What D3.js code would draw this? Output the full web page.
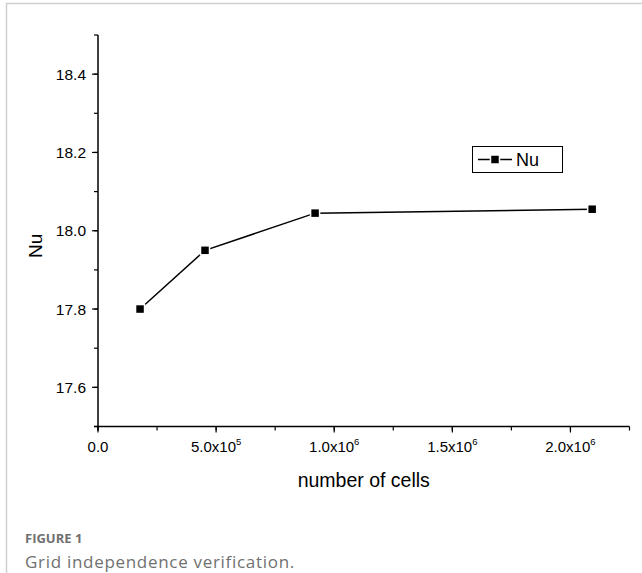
<!DOCTYPE html>
<html>
<head>
<meta charset="utf-8">
<script src="https://cdn.jsdelivr.net/npm/d3@7"></script>
<style>
  body { margin: 0; background: #fff; }
  svg { display: block; }
</style>
</head>
<body>
<div id="chart"></div>
<script>
// values
const cells = [178000, 453000, 919000, 2092000];
const nu = [17.8, 17.95, 18.045, 18.055];
const xTicks = [0, 5e5, 1e6, 1.5e6, 2e6];
const xTickLabels = [['0.0', ''], ['5.0x10', '5'], ['1.0x10', '6'], ['1.5x10', '6'], ['2.0x10', '6']];
const yTicks = [17.6, 17.8, 18.0, 18.2, 18.4];
const seriesName = 'Nu';

const width = 642, height = 573;
const plot = {left: 98, right: 629.5, top: 35, bottom: 426.5};

let svg = d3.select('#chart').append('svg')
  .attr('width', width)
  .attr('height', height);

// card frame
svg.append('rect')
  .attr('x', 6.5).attr('y', 3.5)
  .attr('width', 700).attr('height', 700)
  .attr('fill', 'none')
  .attr('stroke', '#d0d0d0')
  .attr('stroke-width', 1.5);

let x = d3.scaleLinear().domain([0, 2.25e6]).range([plot.left, plot.right]);
let y = d3.scaleLinear().domain([17.5, 18.5]).range([plot.bottom, plot.top]);

let font = 'Liberation Sans, Arial, sans-serif';

// y axis
let yAxis = svg.append('g').attr('transform', `translate(${plot.left},0)`);
yAxis.append('line')
  .attr('x1', 0).attr('x2', 0)
  .attr('y1', y(18.5)).attr('y2', plot.bottom + 4)
  .attr('stroke', '#000').attr('stroke-width', 1.5);
let yMinor = d3.range(17.5, 18.51, 0.1);
yAxis.selectAll('.ymin').data(yMinor).join('line')
  .attr('x1', -4).attr('x2', 0)
  .attr('y1', d => y(d)).attr('y2', d => y(d))
  .attr('stroke', '#000').attr('stroke-width', 1.2);
yAxis.selectAll('.ymaj').data(yTicks).join('line')
  .attr('x1', -6).attr('x2', 0)
  .attr('y1', d => y(d)).attr('y2', d => y(d))
  .attr('stroke', '#000').attr('stroke-width', 1.2);
yAxis.selectAll('text').data(yTicks).join('text')
  .attr('x', -12)
  .attr('y', d => y(d))
  .attr('dy', '0.36em')
  .attr('text-anchor', 'end')
  .attr('font-family', font)
  .attr('font-size', 15.5)
  .text(d => d3.format('.1f')(d));

// x axis
let xAxis = svg.append('g').attr('transform', `translate(0,${plot.bottom})`);
xAxis.append('line')
  .attr('x1', plot.left - 4).attr('x2', plot.right)
  .attr('y1', 0).attr('y2', 0)
  .attr('stroke', '#000').attr('stroke-width', 1.5);
let xMinor = d3.range(0, 2.26e6, 2.5e5);
xAxis.selectAll('.xmin').data(xMinor).join('line')
  .attr('x1', d => x(d)).attr('x2', d => x(d))
  .attr('y1', 0).attr('y2', 4)
  .attr('stroke', '#000').attr('stroke-width', 1.2);
xAxis.selectAll('.xmaj').data(xTicks).join('line')
  .attr('x1', d => x(d)).attr('x2', d => x(d))
  .attr('y1', 0).attr('y2', 6)
  .attr('stroke', '#000').attr('stroke-width', 1.2);
let xLabels = xAxis.selectAll('text').data(xTicks).join('text')
  .attr('x', d => x(d))
  .attr('y', 25)
  .attr('text-anchor', 'middle')
  .attr('font-family', font)
  .attr('font-size', 15);
xLabels.append('tspan').text((d, i) => xTickLabels[i][0]);
xLabels.append('tspan')
  .attr('dy', -7)
  .attr('font-size', 9.5)
  .text((d, i) => xTickLabels[i][1]);

// axis titles
svg.append('text')
  .attr('x', (plot.left + plot.right) / 2)
  .attr('y', 487)
  .attr('text-anchor', 'middle')
  .attr('font-family', font)
  .attr('font-size', 19.5)
  .text('number of cells');
svg.append('text')
  .attr('transform', `translate(42,${(plot.top + plot.bottom) / 2 + 15}) rotate(-90)`)
  .attr('text-anchor', 'middle')
  .attr('font-family', font)
  .attr('font-size', 19)
  .text('Nu');

// series
let points = cells.map((c, i) => [c, nu[i]]);
svg.append('path')
  .datum(points)
  .attr('d', d3.line().x(d => x(d[0])).y(d => y(d[1])))
  .attr('fill', 'none')
  .attr('stroke', '#000')
  .attr('stroke-width', 1.5);
svg.selectAll('.pt').data(points).join('rect')
  .attr('x', d => x(d[0]) - 4.5)
  .attr('y', d => y(d[1]) - 4.5)
  .attr('width', 9).attr('height', 9)
  .attr('fill', '#000')
  .attr('stroke', '#fff')
  .attr('stroke-width', 1.5);

// legend
let legend = svg.append('g').attr('transform', 'translate(472,146)');
legend.append('rect')
  .attr('x', 0.5).attr('y', 0.5)
  .attr('width', 90).attr('height', 26)
  .attr('fill', '#fff')
  .attr('stroke', '#000')
  .attr('stroke-width', 1);
legend.append('line')
  .attr('x1', 6).attr('x2', 40)
  .attr('y1', 13.5).attr('y2', 13.5)
  .attr('stroke', '#000').attr('stroke-width', 1.5);
legend.append('rect')
  .attr('x', 18.5).attr('y', 9)
  .attr('width', 9).attr('height', 9)
  .attr('fill', '#000')
  .attr('stroke', '#fff').attr('stroke-width', 1.5);
legend.append('text')
  .attr('x', 44).attr('y', 20)
  .attr('font-family', font)
  .attr('font-size', 18)
  .text(seriesName);

// caption
svg.append('text')
  .attr('x', 25).attr('y', 543)
  .attr('font-family', 'Open Sans, sans-serif')
  .attr('font-size', 13)
  .attr('font-weight', 'bold')
  .attr('fill', '#707070')
  .text('FIGURE 1');
svg.append('text')
  .attr('x', 25).attr('y', 567.5)
  .attr('font-family', 'Open Sans, sans-serif')
  .attr('font-size', 17)
  .attr('letter-spacing', 0.7)
  .attr('fill', '#707070')
  .text('Grid independence verification.');
</script>
</body>
</html>
